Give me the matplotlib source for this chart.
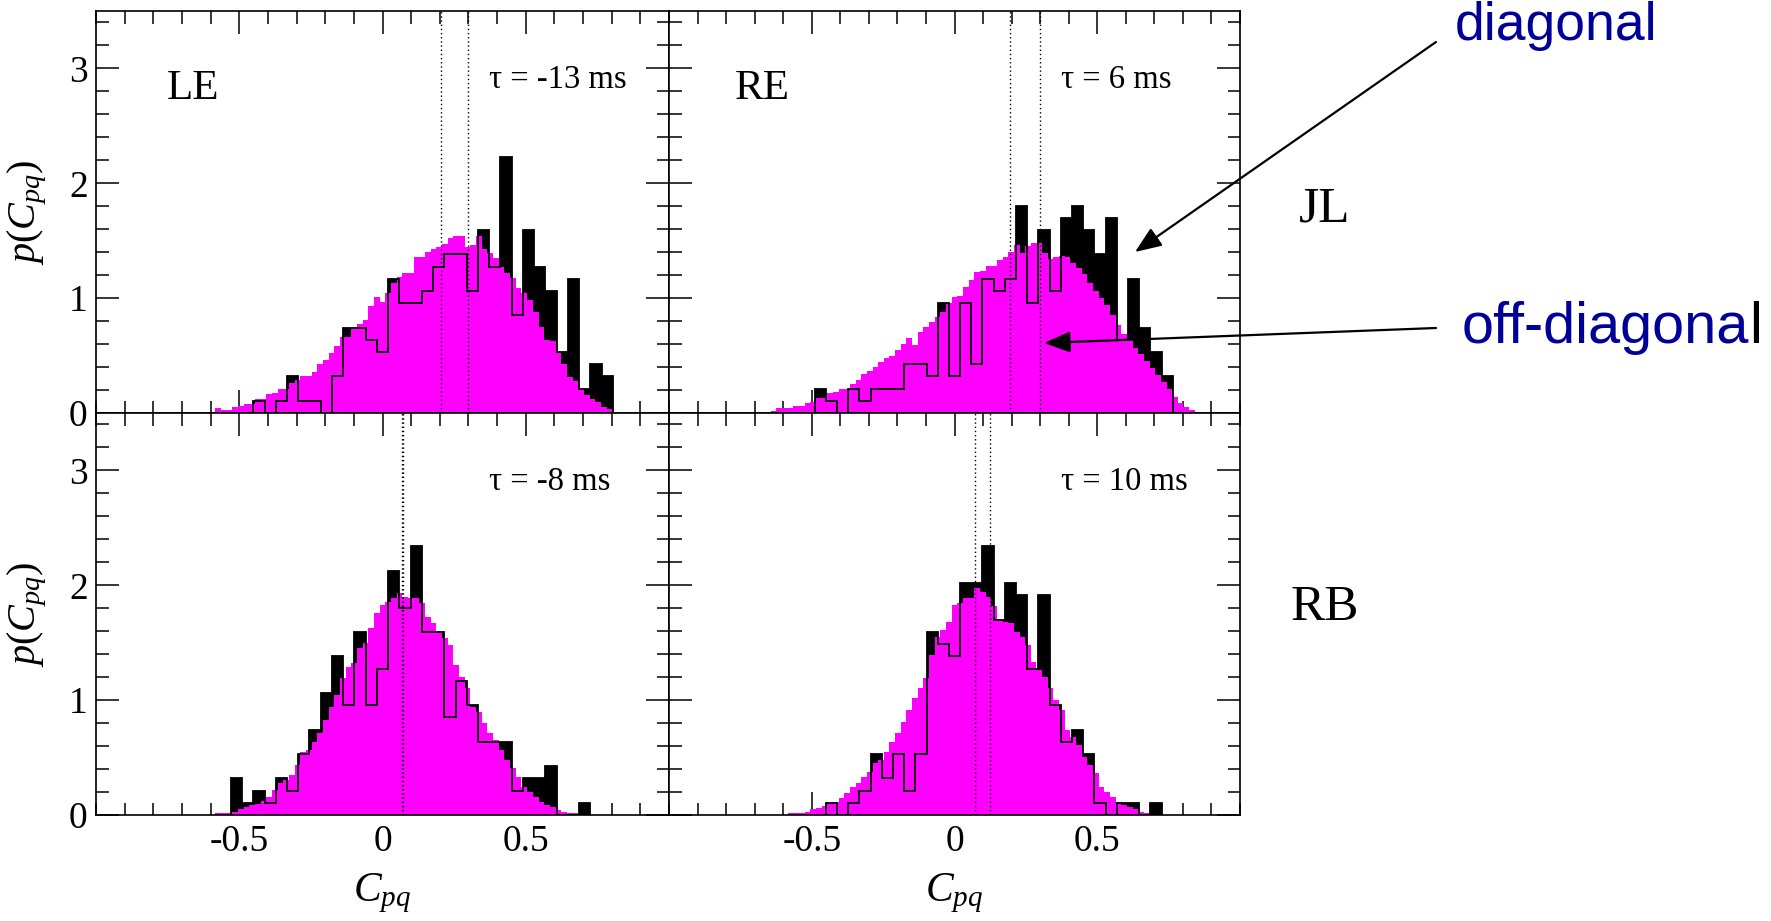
import numpy as np
import matplotlib
matplotlib.use("Agg")
import matplotlib.pyplot as plt
from matplotlib.ticker import FixedLocator, MultipleLocator
from matplotlib.patches import FancyArrowPatch

plt.rcParams['font.family'] = ['Liberation Serif', 'DejaVu Serif']
plt.rcParams['mathtext.fontset'] = 'custom'
plt.rcParams['mathtext.rm'] = 'Liberation Serif'
plt.rcParams['mathtext.it'] = 'Liberation Serif:italic'
plt.rcParams['axes.unicode_minus'] = False

# ---------------- data ----------------
HIST_RANGE = (-1.0, 1.0)
DIAG_NBINS = 51          # coarse bins (diagonal)
OFF_NBINS = 101          # fine bins (off-diagonal)

x_ticks = [-0.5, 0.0, 0.5]
x_tick_labels = ['-0.5', '0', '0.5']
y_ticks = [0, 1, 2, 3]
y_tick_labels = ['0', '1', '2', '3']

# top-left: LE
le_diag_start = 14
le_diag = [0.106, 0, 0.106, 0.319, 0.106, 0.106, 0, 0.319, 0.744, 0.744, 0.638,
           0.531, 1.169, 0.956, 0.956, 1.063, 1.275, 1.381, 1.381, 1.063, 1.594,
           1.275, 2.231, 0.850, 1.594, 1.275, 1.063, 0.531, 1.169, 0.213, 0.425, 0.319]
le_off_start = 21
le_off = [0.041, 0.026, 0.026, 0.055, 0.064, 0.078, 0.078, 0.119, 0.119, 0.165,
          0.177, 0.206, 0.206, 0.258, 0.287, 0.325, 0.325, 0.354, 0.426, 0.461,
          0.519, 0.586, 0.664, 0.664, 0.743, 0.771, 0.809, 0.934, 1.006, 0.963,
          1.047, 1.134, 1.181, 1.216, 1.221, 1.361, 1.355, 1.404, 1.424, 1.442,
          1.471, 1.526, 1.540, 1.540, 1.442, 1.459, 1.540, 1.424, 1.390, 1.346,
          1.274, 1.216, 1.172, 1.085, 1.047, 0.983, 0.879, 0.751, 0.635, 0.627,
          0.519, 0.424, 0.316, 0.281, 0.206, 0.157, 0.119, 0.099, 0.055, 0.032]
le_means = [0.205, 0.300]

# top-right: RE
re_diag_start = 13
re_diag = [0.213, 0.106, 0, 0.213, 0.106, 0.213, 0.213, 0.213, 0.425, 0.425, 0.319,
           0.956, 0.319, 0.956, 0.425, 1.169, 1.063, 1.169, 1.806, 0.956, 1.594,
           1.063, 1.700, 1.806, 1.594, 1.381, 1.700, 0.638, 1.169, 0.744, 0.531, 0.319]
re_off_start = 18
re_off = [0.020, 0.040, 0.040, 0.045, 0.064, 0.064, 0.084, 0.100, 0.128, 0.128,
          0.171, 0.180, 0.212, 0.212, 0.250, 0.287, 0.337, 0.366, 0.403, 0.441,
          0.476, 0.499, 0.548, 0.598, 0.650, 0.590, 0.702, 0.751, 0.795, 0.838,
          0.880, 0.954, 1.012, 1.020, 1.100, 1.158, 1.230, 1.240, 1.279, 1.280,
          1.332, 1.361, 1.404, 1.462, 1.390, 1.450, 1.477, 1.477, 1.390, 1.340,
          1.355, 1.369, 1.360, 1.310, 1.260, 1.210, 1.130, 1.060, 1.000, 0.940,
          0.850, 0.770, 0.690, 0.640, 0.570, 0.510, 0.450, 0.390, 0.330, 0.270,
          0.210, 0.140, 0.090, 0.050, 0.026]
re_means = [0.193, 0.300]

# bottom-left
bl_diag_start = 12
bl_diag = [0.319, 0.106, 0.213, 0.106, 0.319, 0.213, 0.531, 0.744, 1.063, 1.381,
           0.956, 1.594, 0.956, 1.275, 2.125, 1.806, 2.338, 1.594, 1.594, 0.850,
           1.169, 0.956, 0.638, 0.638, 0.638, 0.213, 0.319, 0.319, 0.425, 0, 0, 0.106]
bl_off_start = 21
bl_off = [0.015, 0.015, 0.015, 0.030, 0.050, 0.070, 0.087, 0.100, 0.125, 0.160,
          0.218, 0.276, 0.305, 0.348, 0.435, 0.551, 0.566, 0.638, 0.711, 0.827,
          0.943, 1.044, 1.190, 1.291, 1.320, 1.450, 1.494, 1.625, 1.755, 1.828,
          1.857, 1.886, 1.935, 1.900, 1.886, 1.886, 1.842, 1.726, 1.674, 1.596,
          1.538, 1.480, 1.305, 1.204, 1.102, 0.943, 0.900, 0.798, 0.711, 0.653,
          0.566, 0.479, 0.406, 0.334, 0.247, 0.203, 0.160, 0.116, 0.087, 0.073,
          0.044, 0.030, 0.015, 0.015]
bl_means = [0.067, 0.071]

# bottom-right
br_diag_start = 14
br_diag = [0.106, 0, 0.106, 0.213, 0.531, 0.319, 0.531, 0.213, 0.531, 1.594,
           1.488, 1.381, 2.019, 2.019, 2.338, 1.700, 2.019, 1.913, 1.275, 1.913,
           0.956, 0.638, 0.744, 0.531, 0.106, 0, 0.106, 0.106, 0, 0.106]
br_off_start = 21
br_off = [0.015, 0.015, 0.015, 0.030, 0.050, 0.064, 0.078, 0.096, 0.116, 0.145,
          0.189, 0.241, 0.276, 0.334, 0.377, 0.450, 0.479, 0.551, 0.638, 0.717,
          0.812, 0.914, 1.015, 1.102, 1.189, 1.392, 1.552, 1.610, 1.683, 1.828,
          1.842, 1.886, 1.886, 1.973, 1.944, 1.900, 1.819, 1.697, 1.683, 1.668,
          1.596, 1.552, 1.480, 1.334, 1.262, 1.204, 1.102, 1.001, 0.914, 0.740,
          0.682, 0.609, 0.508, 0.435, 0.363, 0.247, 0.203, 0.160, 0.116, 0.087,
          0.073, 0.050, 0.030, 0.015]
br_means = [0.073, 0.126]

taus = ['τ = -13 ms', 'τ = 6 ms', 'τ = -8 ms', 'τ = 10 ms']
col_labels = ['LE', 'RE']
row_labels = ['JL', 'RB']

# ---------------- figure ----------------
W, H = 1771, 921
fig = plt.figure(figsize=(W / 100, H / 100), dpi=100)

diag_edges = np.linspace(HIST_RANGE[0], HIST_RANGE[1], DIAG_NBINS + 1)
off_edges = np.linspace(HIST_RANGE[0], HIST_RANGE[1], OFF_NBINS + 1)

left_px = [96, 669]
right_px = [669, 1240]
top_px = [11, 413]
bot_px = [413, 815]

panels = [
    (0, 0, le_diag, le_diag_start, le_off, le_off_start, le_means),
    (0, 1, re_diag, re_diag_start, re_off, re_off_start, re_means),
    (1, 0, bl_diag, bl_diag_start, bl_off, bl_off_start, bl_means),
    (1, 1, br_diag, br_diag_start, br_off, br_off_start, br_means),
]

MAGENTA = '#ff00ff'
for idx, (r, c, dg, dk, od, oj, means) in enumerate(panels):
    x0, x1 = left_px[c], right_px[c]
    y0, y1 = top_px[r], bot_px[r]
    ax = fig.add_axes([x0 / W, 1 - y1 / H, (x1 - x0) / W, (y1 - y0) / H])
    de = diag_edges[dk:dk + len(dg) + 1]
    oe = off_edges[oj:oj + len(od) + 1]
    ax.stairs(dg, de, fill=True, color='black', lw=0, baseline=0, zorder=1)
    ax.stairs(od, oe, fill=True, color=MAGENTA, lw=0, baseline=0, zorder=2)
    ax.stairs(dg, de, fill=False, color='black', lw=1.3, baseline=0, zorder=3)
    for m in means:
        ax.axvline(m, color='black', lw=1.0, ls=(0, (1, 2)), zorder=4)

    ax.set_xlim(-1, 1)
    ax.set_ylim(0, 3.5)
    ax.xaxis.set_major_locator(FixedLocator(x_ticks))
    ax.xaxis.set_minor_locator(MultipleLocator(0.1))
    ax.yaxis.set_major_locator(FixedLocator(y_ticks))
    ax.yaxis.set_minor_locator(MultipleLocator(0.2))
    ax.tick_params(which='both', direction='in', top=True, right=True,
                   bottom=True, left=True, width=1.1, colors='black')
    ax.tick_params(which='major', length=16.5)
    ax.tick_params(which='minor', length=9)
    for s in ax.spines.values():
        s.set_linewidth(1.2)
    if r == 1:
        ax.set_xticklabels(x_tick_labels, fontsize=27)
        ax.tick_params(axis='x', pad=7)
        ax.text(0.5, -0.195, r'$C_{pq}$', transform=ax.transAxes,
                ha='center', va='center', fontsize=30)
    else:
        ax.set_xticklabels([])
    if c == 0:
        ax.set_yticklabels(y_tick_labels, fontsize=27)
        ax.tick_params(axis='y', pad=6)
        ax.text(-0.12, 0.5, r'$p(C_{pq})$', transform=ax.transAxes, rotation=90,
                ha='center', va='center', fontsize=29)
    else:
        ax.set_yticklabels([])
    if r == 0:
        ax.text(0.169 if c == 0 else 0.163, 0.807, col_labels[c],
                transform=ax.transAxes, ha='center', va='center', fontsize=31)
    ax.text(0.686, 0.828, taus[idx], transform=ax.transAxes,
            ha='left', va='center', fontsize=23.5)

# row labels
fig.text(1325 / W, 1 - 209 / H, row_labels[0], ha='center', va='center', fontsize=37)
fig.text(1325 / W, 1 - 608 / H, row_labels[1], ha='center', va='center', fontsize=37)

# annotations
NAVY = '#000099'
fig.text(1455 / W, 1 - 40 / H, 'diagonal', color=NAVY, family='Liberation Sans',
         fontsize=38.5, ha='left', va='baseline')
t_off = fig.text(1462 / W, 1 - 343 / H, 'off-diagona', color=NAVY,
                 family='Liberation Sans', fontsize=41.5, ha='left', va='baseline')
fig.canvas.draw()
bb = t_off.get_window_extent()
fig.text(bb.x1 / W, 1 - 343 / H, 'l', color='black', family='Liberation Sans',
         fontsize=41.5, ha='left', va='baseline')

arrow_kw = dict(arrowstyle='-|>,head_length=0.45,head_width=0.18', color='black',
                lw=1.6, shrinkA=0, shrinkB=0, mutation_scale=36, transform=None)
fig.add_artist(FancyArrowPatch(posA=(1436, H - 42), posB=(1135, H - 252), **arrow_kw))
fig.add_artist(FancyArrowPatch(posA=(1436, H - 328), posB=(1044, H - 343), **arrow_kw))

fig.savefig('out.png', dpi=100)
